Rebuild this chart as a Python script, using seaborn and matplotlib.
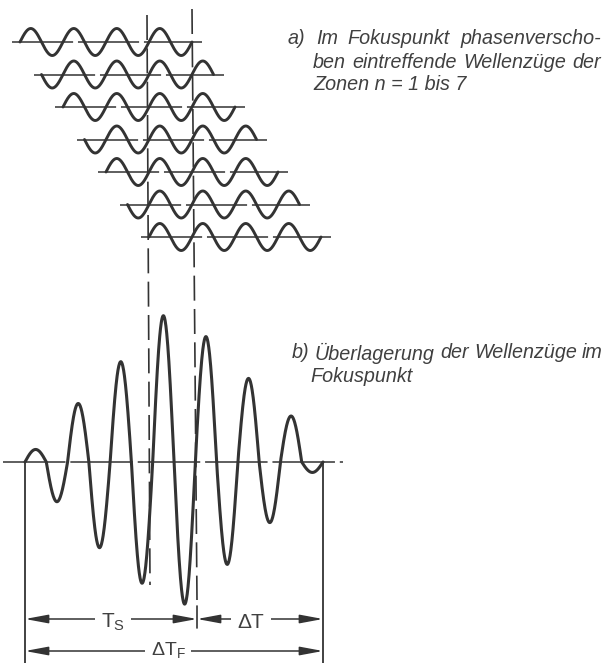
import numpy as np
import pandas as pd
import matplotlib
matplotlib.use("Agg")
import matplotlib.pyplot as plt
import seaborn as sns
from matplotlib.patches import FancyArrowPatch

# ---------------- data ----------------
zones = [1, 2, 3, 4, 5, 6, 7]                       # Fresnel zones n
zone_delay_periods = [0.0, 0.5, 1.0, 1.5, 2.0, 2.5, 3.0]  # arrival delay of each wave train
train_periods = 4                                   # length of each wave train (periods)
# half-wave amplitudes of the superposed signal (unit = one wave train)
superposition_lobes = [0.6, -1.9, 2.8, -4.1, 4.8, -5.8, 7.0,
                       -6.8, 6.0, -4.9, 4.0, -2.9, 2.2, -0.5]
text_a = [["a)", "Im", "Fokuspunkt", "phasenverscho-"],
          ["ben", "eintreffende", "Wellenzüge", "der"],
          ["Zonen n = 1 bis 7"]]
text_b = [["b)", "Überlagerung", "der", "Wellenzüge", "im"],
          ["Fokuspunkt"]]
label_ts = "$\\mathregular{T_S}$"
label_dt = "ΔT"
label_dtf = "Δ$\\mathregular{T_F}$"

# ---------------- layout ----------------
W, H = 611, 663
INK = "#333333"
TXT = "#404040"
TOP_X0, PERIOD_PX, AMP_PX = 20.0, 43.0, 13.5
ROW_Y0, ROW_DY = 42.0, 32.5
BOT_X0, BOT_X1, BOT_Y, BOT_UNIT = 25.0, 323.0, 462.0, 20.9

sns.set_style("white")
plt.rcParams["font.family"] = ["Liberation Sans", "DejaVu Sans"]
plt.rcParams["lines.scale_dashes"] = False
plt.rcParams["lines.solid_capstyle"] = "round"

fig = plt.figure(figsize=(W / 100, H / 100), dpi=100)
ax = fig.add_axes([0, 0, 1, 1])
ax.set_xlim(0, W)
ax.set_ylim(H, 0)
ax.axis("off")

# ---- a) wave trains ----
rows = []
t = np.linspace(0, train_periods, 600)
for k, (z, d) in enumerate(zip(zones, zone_delay_periods)):
    ph = d + t
    rows.append(pd.DataFrame({
        "x": TOP_X0 + PERIOD_PX * ph,
        "y": ROW_Y0 + ROW_DY * k - AMP_PX * np.sin(2 * np.pi * ph),
        "zone": z,
    }))
    xs = TOP_X0 + PERIOD_PX * d
    xe = xs + PERIOD_PX * train_periods
    ax.plot([xs - 8, xe + 10], [ROW_Y0 + ROW_DY * k] * 2, color=INK, lw=1.1,
            dashes=(44, 3.5), zorder=1)
waves = pd.concat(rows, ignore_index=True)
sns.lineplot(data=waves, x="x", y="y", units="zone", estimator=None, sort=False,
             color=INK, linewidth=2.1, ax=ax, legend=False, zorder=2)

# ---- b) superposition ----
half_w = (BOT_X1 - BOT_X0) / len(superposition_lobes)
parts = []
s = np.linspace(0, 1, 80)
for i, a in enumerate(superposition_lobes):
    parts.append(pd.DataFrame({
        "x": BOT_X0 + half_w * (i + s),
        "y": BOT_Y - BOT_UNIT * a * np.sin(np.pi * s),
    }))
sup = pd.concat(parts, ignore_index=True)
sns.lineplot(data=sup, x="x", y="y", estimator=None, sort=False,
             color=INK, linewidth=2.2, ax=ax, zorder=2)
ax.plot([3, 343], [BOT_Y, BOT_Y], color=INK, lw=1.1, dashes=(45, 3.5), zorder=1)

# ---- dashed guide lines ----
ax.plot([147, 150], [15, 585], color=INK, lw=1.2, dashes=(18, 6), zorder=3)
ax.plot([192, 197], [9, 600], color=INK, lw=1.2, dashes=(18, 6), zorder=3)
ax.plot([197, 197], [606, 628], color=INK, lw=1.2, zorder=3)

# ---- dimension lines ----
ax.plot([BOT_X0, BOT_X0], [BOT_Y, H + 5], color=INK, lw=1.3)
ax.plot([BOT_X1, BOT_X1], [BOT_Y, H + 5], color=INK, lw=1.3)
for x0, x1, y in [(BOT_X0, 197, 619), (197, BOT_X1, 619), (BOT_X0, BOT_X1, 651)]:
    ax.add_patch(FancyArrowPatch((x0, y), (x1, y),
                 arrowstyle="<|-|>,head_length=14,head_width=2.6",
                 mutation_scale=1, lw=1.1, color=INK, shrinkA=0, shrinkB=0))
bbox = dict(boxstyle="square,pad=0.3", fc="white", ec="none")
ax.text(113, 628, label_ts, fontsize=15, color=TXT, ha="center", va="baseline", bbox=bbox)
ax.text(251, 628, label_dt, fontsize=15, color=TXT, ha="center", va="baseline", bbox=bbox)
ax.text(168, 655, label_dtf, fontsize=14, color=TXT, ha="center", va="baseline", bbox=bbox)

# ---- justified italic descriptions ----
fig.canvas.draw()
renderer = fig.canvas.get_renderer()


def place_line(words, x0, x1, y, justify=True):
    arts = [ax.text(0, y, w, fontsize=14.2, style="italic", color=TXT,
                    ha="left", va="center") for w in words]
    widths = [a.get_window_extent(renderer).width for a in arts]
    if justify and len(words) > 1:
        gap = (x1 - x0 - sum(widths)) / (len(words) - 1)
    else:
        gap = 0
    x = x0
    for a, w in zip(arts, widths):
        a.set_x(x)
        x += w + gap


place_line(text_a[0], 288, 601, 39)
place_line(text_a[1], 313, 601, 62)
place_line(text_a[2], 313, 601, 85, justify=False)
place_line(text_b[0], 292, 603, 353)
place_line(text_b[1], 310, 603, 376, justify=False)

fig.savefig("out.png", dpi=100, facecolor="white")
